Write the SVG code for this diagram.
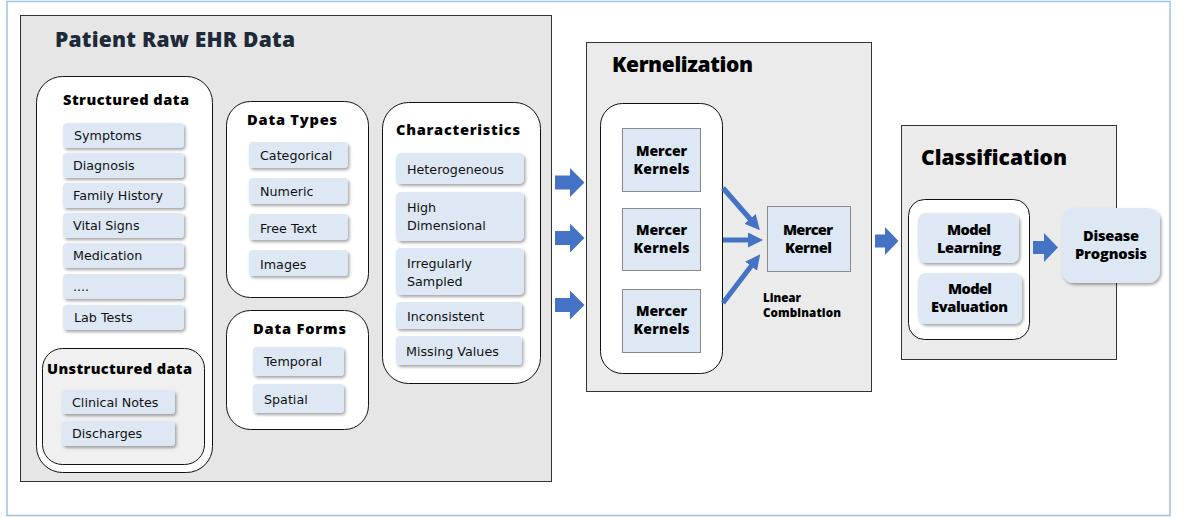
<svg xmlns="http://www.w3.org/2000/svg" width="1187" height="518" viewBox="0 0 1187 518">
  <style>
    .frame { fill: #ffffff; stroke: #9dc3e6; stroke-width: 1.5; }
    .panel { stroke: #333333; stroke-width: 1; }
    .group { fill: #ffffff; stroke: #111111; stroke-width: 1; }
    .item { fill: #dde8f4; stroke: none; filter: url(#shadow); }
    .kbox { fill: #dde8f4; stroke: #8a8a8a; stroke-width: 1; }
    .t { font-family: "DejaVu Sans", Verdana, sans-serif; font-size: 12.7px; fill: #111111; }
    .h { font-family: "Open Sans", "DejaVu Sans", sans-serif; font-weight: 800; font-size: 14.6px; fill: #000000; }
    .big { font-family: "Open Sans", "DejaVu Sans", sans-serif; font-weight: 800; font-size: 21px; fill: #000000; }
    .sm { font-size: 11.6px; }
    .k { font-size: 14px; }
    .c { text-anchor: middle; }
    .blk { fill: #4472c4; }
    .ln { stroke: #4472c4; stroke-width: 5; fill: none; marker-end: url(#head); }
  </style>
  <defs>
    <filter id="shadow" x="-10%" y="-20%" width="130%" height="150%">
      <feDropShadow dx="1.5" dy="2" stdDeviation="1.4" flood-color="#000000" flood-opacity="0.35"/>
    </filter>
    <marker id="head" viewBox="0 0 10 10" markerWidth="3" markerHeight="3" refX="1" refY="5" orient="auto" markerUnits="strokeWidth">
      <path d="M0,0 L10,5 L0,10 Z" fill="#4472c4"/>
    </marker>
  </defs>

  <!-- outer frame -->
  <rect class="frame" x="7" y="1.5" width="1163" height="514"/>

  <!-- Patient raw EHR data -->
  <g id="ehr-data">
    <rect class="panel" x="20.5" y="15.5" width="531" height="466" fill="#e6e6e6"/>
    <text x="55" y="47" class="big" style="fill:#1e2a38" textLength="240" lengthAdjust="spacing">Patient Raw EHR Data</text>
  </g>

  <g id="structured">
    <rect class="group" x="36.5" y="76.5" width="176" height="396" rx="26"/>
    <text x="63" y="105" class="h" textLength="126" lengthAdjust="spacing">Structured data</text>
    <rect class="item" x="63" y="123" width="121" height="25" rx="4"/>
    <text x="74" y="140" class="t">Symptoms</text>
    <rect class="item" x="63" y="153" width="121" height="25" rx="4"/>
    <text x="73" y="170" class="t">Diagnosis</text>
    <rect class="item" x="63" y="183" width="121" height="25" rx="4"/>
    <text x="73" y="200" class="t">Family History</text>
    <rect class="item" x="63" y="213" width="121" height="25" rx="4"/>
    <text x="73" y="230" class="t">Vital Signs</text>
    <rect class="item" x="63" y="243" width="121" height="25" rx="4"/>
    <text x="73" y="260" class="t">Medication</text>
    <rect class="item" x="63" y="274" width="121" height="25" rx="4"/>
    <text x="73" y="291" class="t">....</text>
    <rect class="item" x="63" y="305" width="121" height="25" rx="4"/>
    <text x="74" y="322" class="t">Lab Tests</text>
  </g>

  <g id="unstructured">
    <rect class="group" x="42.5" y="348.5" width="162" height="116" rx="20" style="fill:#f0f0f0"/>
    <text x="47" y="374" class="h" textLength="145" lengthAdjust="spacing">Unstructured data</text>
    <rect class="item" x="62" y="390" width="113" height="24" rx="4"/>
    <text x="72" y="407" class="t">Clinical Notes</text>
    <rect class="item" x="62" y="421" width="113" height="25" rx="4"/>
    <text x="72" y="438" class="t">Discharges</text>
  </g>

  <g id="data-types">
    <rect class="group" x="226.5" y="101.5" width="142" height="196" rx="24"/>
    <text x="247" y="125" class="h" textLength="90" lengthAdjust="spacing">Data Types</text>
    <rect class="item" x="249" y="142" width="99" height="26" rx="4"/>
    <text x="260" y="160" class="t">Categorical</text>
    <rect class="item" x="249" y="178" width="99" height="26" rx="4"/>
    <text x="260" y="196" class="t">Numeric</text>
    <rect class="item" x="249" y="214" width="99" height="26" rx="4"/>
    <text x="260" y="233" class="t">Free Text</text>
    <rect class="item" x="249" y="250" width="99" height="26" rx="4"/>
    <text x="260" y="269" class="t">Images</text>
  </g>

  <g id="data-forms">
    <rect class="group" x="226.5" y="310.5" width="142" height="119" rx="24"/>
    <text x="253" y="334" class="h" textLength="93" lengthAdjust="spacing">Data Forms</text>
    <rect class="item" x="253" y="347" width="91" height="29" rx="4"/>
    <text x="264" y="366" class="t">Temporal</text>
    <rect class="item" x="253" y="384" width="91" height="29" rx="4"/>
    <text x="264" y="404" class="t">Spatial</text>
  </g>

  <g id="characteristics">
    <rect class="group" x="382.5" y="102.5" width="158" height="281" rx="26"/>
    <text x="396" y="135" class="h" textLength="124" lengthAdjust="spacing">Characteristics</text>
    <rect class="item" x="396" y="153" width="128" height="31" rx="5"/>
    <text x="407" y="174" class="t">Heterogeneous</text>
    <rect class="item" x="396" y="192" width="128" height="49" rx="5"/>
    <text x="407" y="212" class="t">High</text>
    <text x="407" y="230" class="t">Dimensional</text>
    <rect class="item" x="396" y="248" width="128" height="47" rx="5"/>
    <text x="407" y="268" class="t">Irregularly</text>
    <text x="407" y="286" class="t">Sampled</text>
    <rect class="item" x="396" y="302" width="126" height="27" rx="4"/>
    <text x="407" y="321" class="t">Inconsistent</text>
    <rect class="item" x="396" y="336" width="126" height="29" rx="4"/>
    <text x="406" y="356" class="t">Missing Values</text>
  </g>

  <!-- Kernelization -->
  <g id="kernelization">
    <rect class="panel" x="586.5" y="42.5" width="285" height="349" fill="#ebebeb"/>
    <text x="612" y="72" class="big" textLength="141" lengthAdjust="spacing">Kernelization</text>
    <rect class="group" x="600.5" y="103.5" width="122" height="270" rx="22"/>
    <text x="763" y="302" class="h sm" textLength="38" lengthAdjust="spacing">Linear</text>
    <text x="763" y="317" class="h sm" textLength="78" lengthAdjust="spacing">Combination</text>
  </g>

  <g id="kernel-1">
    <rect class="kbox" x="622.5" y="128.5" width="78" height="63"/>
    <text x="661.5" y="156" class="h k c" textLength="51" lengthAdjust="spacing">Mercer</text>
    <text x="661.5" y="174" class="h k c" textLength="56" lengthAdjust="spacing">Kernels</text>
  </g>
  <g id="kernel-2">
    <rect class="kbox" x="622.5" y="208.5" width="78" height="62"/>
    <text x="661.5" y="235" class="h k c" textLength="51" lengthAdjust="spacing">Mercer</text>
    <text x="661.5" y="253" class="h k c" textLength="56" lengthAdjust="spacing">Kernels</text>
  </g>
  <g id="kernel-3">
    <rect class="kbox" x="622.5" y="289.5" width="78" height="63"/>
    <text x="661.5" y="316" class="h k c" textLength="51" lengthAdjust="spacing">Mercer</text>
    <text x="661.5" y="334" class="h k c" textLength="56" lengthAdjust="spacing">Kernels</text>
  </g>
  <g id="mercer-kernel">
    <rect class="kbox" x="767.5" y="206.5" width="83" height="65"/>
    <text x="808" y="235" class="h c" textLength="50" lengthAdjust="spacing">Mercer</text>
    <text x="808.5" y="253" class="h c" textLength="47" lengthAdjust="spacing">Kernel</text>
  </g>

  <!-- Classification -->
  <g id="classification">
    <rect class="panel" x="901.5" y="125.5" width="215" height="234" fill="#ebebeb"/>
    <text x="921" y="165" class="big" textLength="146" lengthAdjust="spacing">Classification</text>
    <rect class="group" x="908.5" y="199.5" width="121" height="140" rx="16"/>
  </g>
  <g id="model-learning">
    <rect class="item" x="918" y="213" width="101" height="50" rx="8"/>
    <text x="969" y="235" class="h c" textLength="44" lengthAdjust="spacing">Model</text>
    <text x="969" y="253" class="h c" textLength="64" lengthAdjust="spacing">Learning</text>
  </g>
  <g id="model-evaluation">
    <rect class="item" x="918" y="273" width="104" height="51" rx="8"/>
    <text x="970" y="294" class="h c" textLength="44" lengthAdjust="spacing">Model</text>
    <text x="969.5" y="312" class="h c" textLength="77" lengthAdjust="spacing">Evaluation</text>
  </g>
  <g id="disease-prognosis">
    <rect class="item" x="1062" y="208" width="98" height="75" rx="12"/>
    <text x="1111" y="241" class="h c" textLength="56" lengthAdjust="spacing">Disease</text>
    <text x="1111" y="259" class="h c" textLength="72" lengthAdjust="spacing">Prognosis</text>
  </g>

  <!-- connectors -->
  <g id="connectors">
    <path class="blk" d="M555,175.5 H570 V168 L584.5,182.5 L570,197 V189.5 H555 Z"/>
    <path class="blk" d="M555,231 H570 V223.5 L584.5,238 L570,252.5 V245 H555 Z"/>
    <path class="blk" d="M555,298 H570 V290.5 L584.5,305 L570,319.5 V312 H555 Z"/>
    <line class="ln" x1="723" y1="188" x2="751" y2="220"/>
    <line class="ln" x1="723" y1="240" x2="749.5" y2="240"/>
    <line class="ln" x1="723" y1="303" x2="752" y2="265"/>
    <path class="blk" d="M875,234.5 H885 V227 L898.5,241 L885,255 V247.5 H875 Z"/>
    <path class="blk" d="M1033,241 H1044 V233 L1058,247.5 L1044,262 V254 H1033 Z"/>
  </g>
</svg>
